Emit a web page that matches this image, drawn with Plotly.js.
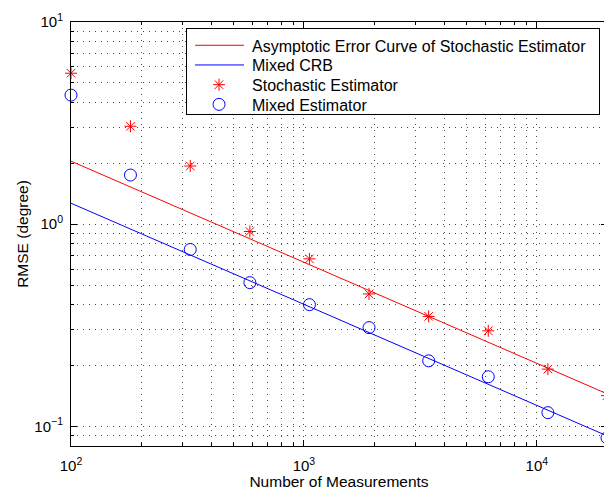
<!DOCTYPE html>
<html>
<head>
<meta charset="utf-8">
<script src="https://cdn.plot.ly/plotly-3.0.1.min.js"></script>
<style>
html,body{margin:0;padding:0;overflow:hidden;background:#fff;}
#chart{width:610px;height:490px;}
</style>
</head>
<body>
<div id="chart"></div>
<script>
// Number of measurements (x positions of estimates)
const measurements = [100, 180, 325, 586, 1056, 1903, 3431, 6185, 11149, 20000];
// Stochastic estimator RMSE (degree)
const stochasticRMSE = [5.58, 3.05, 1.94, 0.92, 0.674, 0.452, 0.350, 0.297, 0.192, 0.142];
// Mixed estimator RMSE (degree)
const mixedRMSE = [4.35, 1.75, 0.75, 0.514, 0.40, 0.308, 0.211, 0.176, 0.117, 0.0878];
// Curves (straight lines on log-log) endpoints
const curveN = [100, 20000];
const asymptoticCurve = [2.05, 0.145];
const mixedCRB = [1.27, 0.0898];

const xMajor = [100, 1000, 10000];
const xMajorText = ['10<sup>2</sup>', '10<sup>3</sup>', '10<sup>4</sup>'];
const xMinor = [200,300,400,500,600,700,800,900,2000,3000,4000,5000,6000,7000,8000,9000,20000];
const yMajor = [0.1, 1, 10];
const yMajorText = ['10<sup>\u22121</sup>', '10<sup>0</sup>', '10<sup>1</sup>'];
const yMinor = [0.08,0.09,0.2,0.3,0.4,0.5,0.6,0.7,0.8,0.9,2,3,4,5,6,7,8,9];

const font = 'Liberation Sans, Arial, Helvetica, sans-serif';
const gridDash = '1px,5px';
const gridColor = 'rgba(0,0,0,0.7)';

const traces = [
  {x: curveN, y: asymptoticCurve, mode: 'lines', name: 'Asymptotic Error Curve of Stochastic Estimator',
   line: {color: '#ff0000', width: 1}},
  {x: curveN, y: mixedCRB, mode: 'lines', name: 'Mixed CRB',
   line: {color: '#0000ff', width: 1}},
  {x: measurements, y: stochasticRMSE, mode: 'markers', name: 'Stochastic Estimator', cliponaxis: false,
   marker: {symbol: 'asterisk-open', size: 10, color: '#ff0000', line: {color: '#ff0000', width: 1}}},
  {x: measurements, y: mixedRMSE, mode: 'markers', name: 'Mixed Estimator', cliponaxis: false,
   marker: {symbol: 'circle-open', size: 12, color: '#0000ff', line: {color: '#0000ff', width: 1}}}
];

const axisCommon = {
  type: 'log',
  showline: true, linecolor: '#000', linewidth: 1, mirror: 'allticks',
  ticks: 'inside', ticklen: 6, tickcolor: '#000', tickwidth: 1,
  tickmode: 'array',
  showgrid: true, gridcolor: gridColor, griddash: gridDash, gridwidth: 1,
  zeroline: false,
  tickfont: {family: font, size: 15, color: '#000'},
  minor: {tickmode: 'array', ticks: 'inside', ticklen: 3, tickcolor: '#000',
          showgrid: true, gridcolor: gridColor, griddash: gridDash, gridwidth: 1}
};

const layout = {
  width: 610, height: 490,
  margin: {l: 71, r: 3, t: 22, b: 44},
  paper_bgcolor: '#fff', plot_bgcolor: '#fff',
  font: {family: font, color: '#000'},
  showlegend: true,
  xaxis: Object.assign({}, axisCommon, {
    range: [2, Math.log10(20000)],
    tickvals: xMajor, ticktext: xMajorText,
    ticklabelstandoff: 6,
    minor: Object.assign({}, axisCommon.minor, {tickvals: xMinor}),
    title: {text: 'Number of Measurements', font: {family: font, size: 15.5, color: '#000'}, standoff: 2}
  }),
  yaxis: Object.assign({}, axisCommon, {
    range: [Math.log10(0.08), 1],
    tickvals: yMajor, ticktext: yMajorText,
    ticklabelstandoff: 4,
    minor: Object.assign({}, axisCommon.minor, {tickvals: yMinor}),
    title: {text: 'RMSE (degree)', font: {family: font, size: 15.5, color: '#000'}, standoff: 4}
  }),
  legend: {
    x: 0.2146, y: 0.985, xanchor: 'left', yanchor: 'top',
    bgcolor: '#fff', bordercolor: '#000', borderwidth: 1,
    font: {family: font, size: 16, color: '#000'},
    tracegroupgap: 0, itemwidth: 55
  }
};

Plotly.newPlot('chart', traces, layout, {displayModeBar: false, staticPlot: true}).then(function (gd) {
  // widen legend line samples and centre the marker samples like the reference
  gd.querySelectorAll('.legend .legendlines path').forEach(function (p) {
    p.setAttribute('d', 'M8,0h49');
  });
  gd.querySelectorAll('.legend .legendpoints path').forEach(function (p) {
    p.setAttribute('transform', 'translate(32,0)');
  });
  // tighter row spacing and box size as in the reference legend
  const items = gd.querySelectorAll('.legend .traces');
  if (items.length) {
    const m = /translate\(([-\d.]+)[ ,]+([-\d.]+)\)/.exec(items[0].getAttribute('transform') || '');
    if (m) {
      const x0 = parseFloat(m[1]), y0 = parseFloat(m[2]) - 1;
      items.forEach(function (it, i) {
        it.setAttribute('transform', 'translate(' + x0 + ',' + (y0 + i * 19.7) + ')');
      });
    }
  }
  gd.querySelectorAll('.legend rect.bg').forEach(function (r) {
    r.setAttribute('height', 86);
    r.setAttribute('width', 413);
  });
  // nudge the y-axis title to the reference position
  const yt = gd.querySelector('.ytitle');
  if (yt) yt.setAttribute('transform', 'translate(3,0) ' + (yt.getAttribute('transform') || ''));
});
</script>
</body>
</html>
